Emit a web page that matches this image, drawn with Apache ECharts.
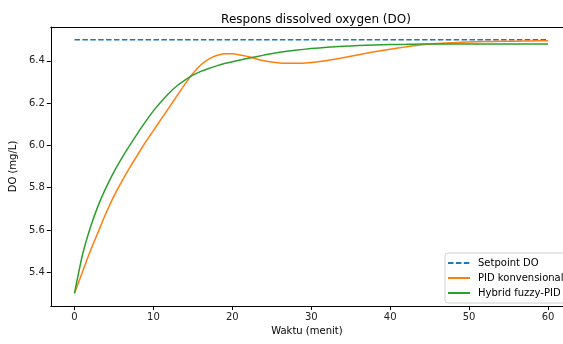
<!DOCTYPE html>
<html>
<head>
<meta charset="utf-8">
<script src="https://cdn.jsdelivr.net/npm/echarts@6/dist/echarts.min.js"></script>
<style>
  html, body {margin: 0; padding: 0; background: #fff;}
  #chart {width: 563px; height: 344px;}
</style>
</head>
<body>
<div id="chart"></div>
<script>
// waktu (menit)
var times = [0, 1, 2, 3, 4, 5, 6, 7, 8, 9, 10, 11, 12, 13, 14, 15, 16, 17, 18, 19, 20,
  22, 24, 26, 28, 30, 32, 34, 36, 38, 40, 42, 44, 46, 48, 50, 52, 54, 56, 58, 60];
var setpoint = 6.5;
var pidValues = [5.30, 5.40, 5.50, 5.59, 5.68, 5.76, 5.83, 5.895, 5.955, 6.015, 6.07,
  6.125, 6.18, 6.235, 6.29, 6.34, 6.38, 6.408, 6.425, 6.433, 6.434,
  6.42, 6.40, 6.39, 6.388, 6.392, 6.402, 6.415, 6.429, 6.443, 6.455, 6.466, 6.476,
  6.482, 6.486, 6.489, 6.491, 6.492, 6.493, 6.494, 6.495];
var fuzzyValues = [5.30, 5.48, 5.61, 5.715, 5.80, 5.875, 5.94, 6.00, 6.057, 6.112, 6.163,
  6.208, 6.248, 6.282, 6.309, 6.332, 6.35, 6.364, 6.376, 6.387, 6.396,
  6.412, 6.427, 6.44, 6.45, 6.458, 6.464, 6.469, 6.472, 6.475, 6.477, 6.478, 6.479,
  6.48, 6.48, 6.48, 6.48, 6.48, 6.48, 6.48, 6.48];
var xTicks = [0, 10, 20, 30, 40, 50, 60];
var yTicks = [5.4, 5.6, 5.8, 6.0, 6.2, 6.4];

var font = 'DejaVu Sans';
var pairs = function (vals) {
  return times.map(function (t, i) { return [t, vals[i]]; });
};

var myChart = echarts.init(document.getElementById('chart'));
myChart.setOption({
  animation: false,
  textStyle: {fontFamily: font},
  title: {
    text: 'Respons dissolved oxygen (DO)',
    left: 311,
    top: 9,
    textAlign: 'center',
    textStyle: {fontFamily: font, fontSize: 12, fontWeight: 'normal', color: '#000'}
  },
  grid: {left: 50, top: 27, right: 0, bottom: 38},
  legend: {
    orient: 'vertical',
    left: 445,
    top: 253,
    itemWidth: 22,
    itemHeight: 10,
    itemGap: 5,
    padding: [5, 6, 5, 2],
    backgroundColor: 'rgba(255,255,255,0.8)',
    borderColor: '#d0d0d0',
    borderWidth: 1,
    borderRadius: 3,
    itemStyle: {opacity: 0},
    textStyle: {fontFamily: font, fontSize: 10, color: '#000', padding: [0, 0, 0, 3]},
    data: ['Setpoint DO', 'PID konvensional', 'Hybrid fuzzy-PID']
  },
  xAxis: [{
    type: 'value',
    min: -3,
    max: 61.9,
    name: 'Waktu (menit)',
    nameLocation: 'middle',
    nameGap: 20,
    nameTextStyle: {fontFamily: font, fontSize: 10, color: '#000'},
    axisLine: {onZero: false, lineStyle: {color: '#000', width: 1}},
    axisTick: {show: true, length: 4, lineStyle: {color: '#000'}, customValues: xTicks},
    axisLabel: {fontFamily: font, fontSize: 10, color: '#222', margin: 6, customValues: xTicks},
    splitLine: {show: false}
  }, {
    // garis atas bingkai
    type: 'value',
    position: 'top',
    min: -3,
    max: 61.9,
    axisLine: {show: true, onZero: false, lineStyle: {color: '#000', width: 1}},
    axisTick: {show: false},
    axisLabel: {show: false},
    splitLine: {show: false}
  }],
  yAxis: {
    type: 'value',
    min: 5.24,
    max: 6.56,
    name: 'DO (mg/L)',
    nameLocation: 'middle',
    nameGap: 27,
    nameTextStyle: {fontFamily: font, fontSize: 10, color: '#000'},
    axisLine: {show: true, onZero: false, lineStyle: {color: '#000', width: 1}},
    axisTick: {show: true, length: 4, lineStyle: {color: '#000'}, customValues: yTicks},
    axisLabel: {
      fontFamily: font, fontSize: 10, color: '#222', margin: 6,
      customValues: yTicks,
      formatter: function (v) { return v.toFixed(1); }
    },
    splitLine: {show: false}
  },
  series: [
    {
      name: 'Setpoint DO',
      type: 'line',
      data: [[0, setpoint], [60, setpoint]],
      symbol: 'none',
      color: '#1f77b4',
      lineStyle: {width: 1.5, type: [5.5, 2.4], color: '#1f77b4'}
    },
    {
      name: 'PID konvensional',
      type: 'line',
      data: pairs(pidValues),
      smooth: 0.2,
      symbol: 'none',
      color: '#ff7f0e',
      lineStyle: {width: 1.5, color: '#ff7f0e'}
    },
    {
      name: 'Hybrid fuzzy-PID',
      type: 'line',
      data: pairs(fuzzyValues),
      smooth: 0.2,
      symbol: 'none',
      color: '#2ca02c',
      lineStyle: {width: 1.5, color: '#2ca02c'}
    }
  ]
});
</script>
</body>
</html>
